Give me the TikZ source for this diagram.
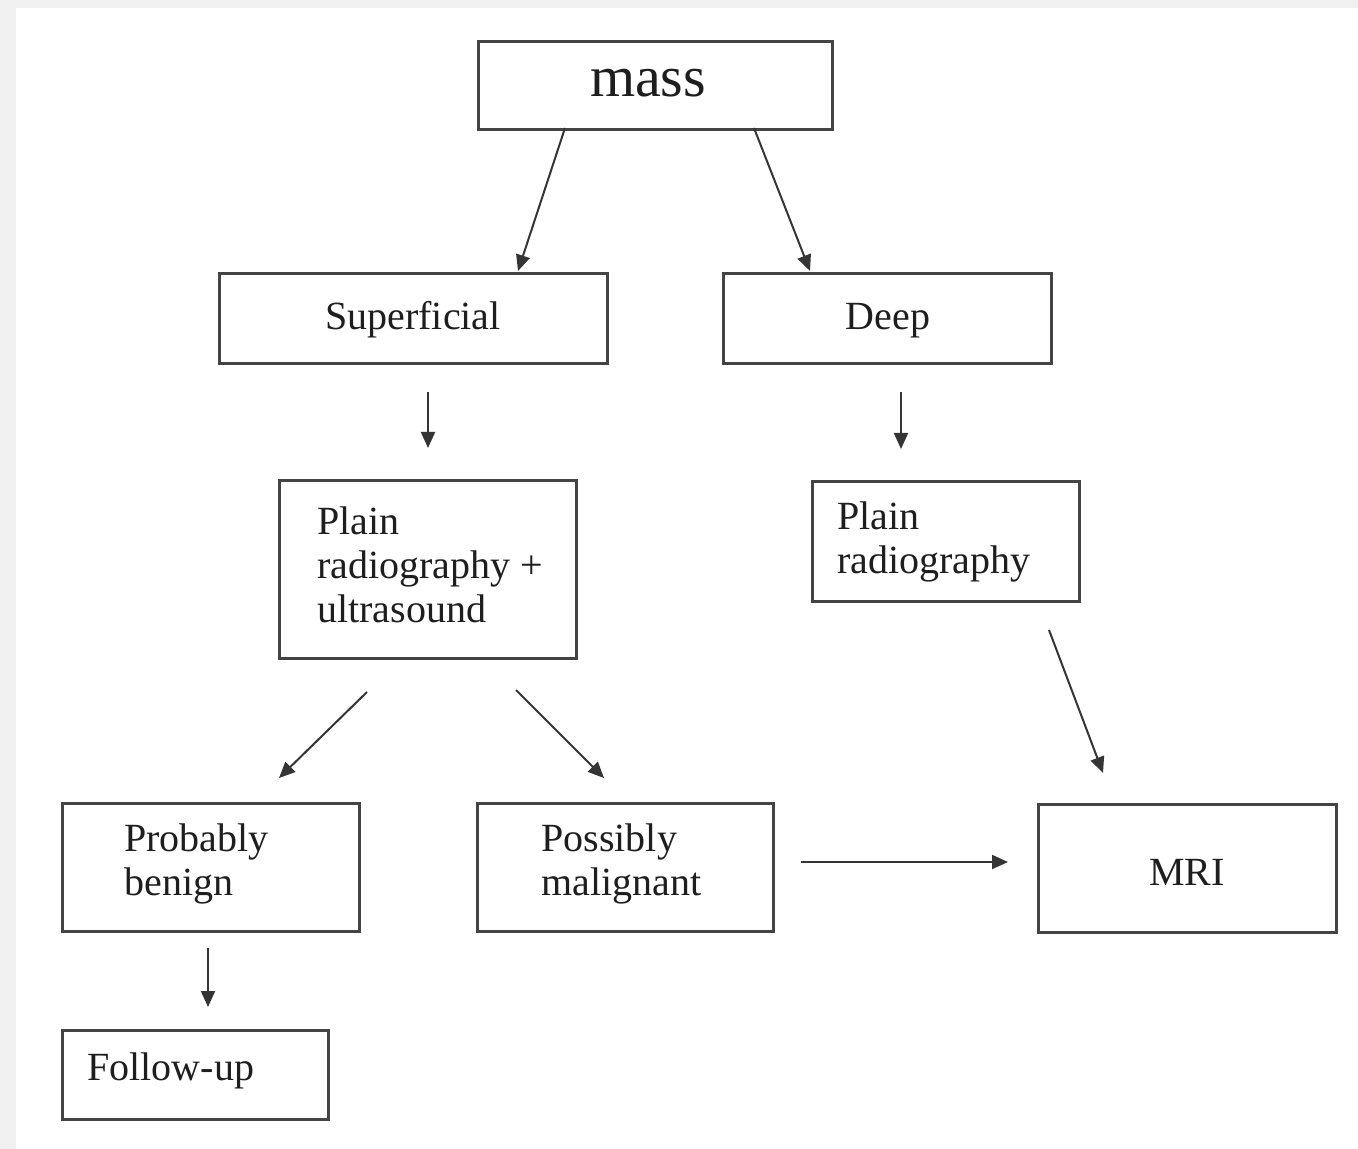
\documentclass[tikz,border=0pt]{standalone}
\usepackage{fontspec}
\setmainfont{Liberation Serif}
\usetikzlibrary{arrows.meta}
\definecolor{edge}{HTML}{444444}
\definecolor{ink}{HTML}{1E1E1E}
\definecolor{strip}{HTML}{F0F0F0}
\tikzset{
  box/.style={draw=edge, line width=1.5pt, rectangle, inner sep=0pt, anchor=north west},
  lbl/.style={text=ink, font=\fontsize{20pt}{22pt}\selectfont, inner sep=0pt, anchor=base west, align=left},
  conn/.style={draw=ink!90, line width=1pt, -{Triangle[length=8pt,width=7pt]}}
}
\begin{document}
\begin{tikzpicture}[x=0.5pt,y=-0.5pt]
\useasboundingbox (0,0) rectangle (1358,1149);
\fill[white] (0,0) rectangle (1358,1149);
\fill[strip] (0,0) rectangle (1358,8);
\fill[strip] (0,0) rectangle (16,1149);
% boxes
\node[box, minimum width=177pt, minimum height=44pt] (mass) at (477,40) {};
\node[box, minimum width=194pt, minimum height=45pt] (sup) at (218,272) {};
\node[box, minimum width=164pt, minimum height=45pt] (deep) at (722,272) {};
\node[box, minimum width=148.5pt, minimum height=89pt] (prus) at (278,479) {};
\node[box, minimum width=133.5pt, minimum height=60pt] (pr) at (811,480) {};
\node[box, minimum width=148.5pt, minimum height=64pt] (pb) at (61,802) {};
\node[box, minimum width=148pt, minimum height=64pt] (pm) at (476,802) {};
\node[box, minimum width=149pt, minimum height=64pt] (mri) at (1037,803) {};
\node[box, minimum width=133pt, minimum height=44.5pt] (fu) at (61,1029) {};
% texts (multi-line: anchored at the baseline of the last line)
\node[lbl, font=\fontsize{29pt}{32pt}\selectfont, anchor=base] (tmass) at (648,97) {mass};
\node[lbl, anchor=base] (tsup) at (413,330) {Superficial};
\node[lbl, anchor=base] (tdeep) at (888,330) {Deep};
\node[lbl] (tprus) at (317,622) {Plain\\radiography +\\ultrasound};
\node[lbl] (tpr) at (837,573) {Plain\\radiography};
\node[lbl] (tpb) at (124,895) {Probably\\benign};
\node[lbl] (tpm) at (541,895) {Possibly\\malignant};
\node[lbl, anchor=base] (tmri) at (1187,885) {MRI};
\node[lbl] (tfu) at (87,1080) {Follow-up};
% connector end points
\coordinate (a1s) at (565,128); \coordinate (a1e) at (518,271);
\coordinate (a2s) at (754,128); \coordinate (a2e) at (810,271);
\coordinate (a3s) at (428,392); \coordinate (a3e) at (428,448);
\coordinate (a4s) at (901,392); \coordinate (a4e) at (901,449);
\coordinate (a5s) at (367,692); \coordinate (a5e) at (279,778);
\coordinate (a6s) at (516,690); \coordinate (a6e) at (604,778);
\coordinate (a7s) at (1049,630); \coordinate (a7e) at (1103,773);
\coordinate (a8s) at (801,862); \coordinate (a8e) at (1008,862);
\coordinate (a9s) at (208,948); \coordinate (a9e) at (208,1007);
\draw[conn] (a1s) -- (a1e);
\draw[conn] (a2s) -- (a2e);
\draw[conn] (a3s) -- (a3e);
\draw[conn] (a4s) -- (a4e);
\draw[conn] (a5s) -- (a5e);
\draw[conn] (a6s) -- (a6e);
\draw[conn] (a7s) -- (a7e);
\draw[conn] (a8s) -- (a8e);
\draw[conn] (a9s) -- (a9e);
\end{tikzpicture}
\end{document}
